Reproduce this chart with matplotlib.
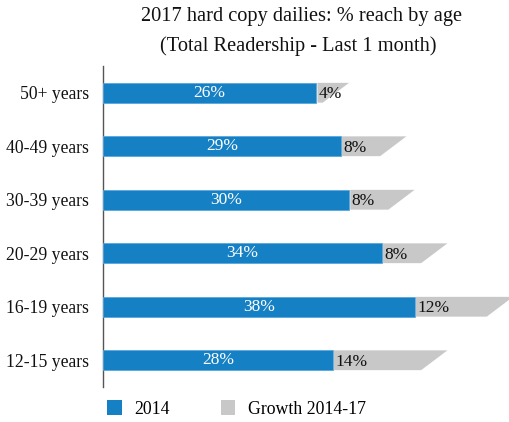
import matplotlib
matplotlib.use("Agg")
import matplotlib.pyplot as plt
from matplotlib.patches import Polygon, Patch

categories = ["12-15 years", "16-19 years", "20-29 years", "30-39 years", "40-49 years", "50+ years"]
reach_2014 = [28, 38, 34, 30, 29, 26]
growth_14_17 = [14, 12, 8, 8, 8, 4]
series_names = ["2014", "Growth 2014-17"]

BLUE = "#1580c4"
GRAY = "#c8c8c9"
FONT = ["Liberation Serif", "DejaVu Serif"]
plt.rcParams["font.family"] = FONT

W, H = 510, 422
fig = plt.figure(figsize=(W / 100, H / 100), dpi=100)
ax = fig.add_axes([103 / W, 1 - 387 / H, (W - 103) / W, (387 - 66) / H])

bar_h = 0.37
slant = 3.2
y = list(range(len(categories)))
ax.barh(y, reach_2014, height=bar_h, color=BLUE, edgecolor="#5aa7dc", linewidth=0.6, zorder=3)
for yi, b, g in zip(y, reach_2014, growth_14_17):
    x0 = b + 0.15
    x1 = b + g
    poly = Polygon([(x0, yi + bar_h / 2), (x1, yi + bar_h / 2), (x1 - slant, yi - bar_h / 2), (x0, yi - bar_h / 2)],
                   closed=True, facecolor=GRAY, edgecolor="none", zorder=3, clip_on=True)
    ax.add_patch(poly)
    ax.text(b / 2, yi, f"{b}%", color="white", ha="center", va="center", fontsize=12.5, zorder=4)
    ax.text(b + 0.3, yi - 0.03, f"{g}%", color="#111111", ha="left", va="center", fontsize=12.5, zorder=4)

ax.set_xlim(0, (W - 103) / 8.2)
ax.set_ylim(-0.5, len(categories) - 0.5)
ax.set_yticks(y)
ax.set_yticklabels(categories, fontsize=12.7, color="#111111")
ax.tick_params(axis="y", length=0, pad=10)
ax.set_xticks([])
for s in ["top", "right", "bottom"]:
    ax.spines[s].set_visible(False)
ax.spines["left"].set_color("#555555")
ax.spines["left"].set_linewidth(1.0)

fig.text(302 / W, 1 - 16 / H, "2017 hard copy dailies: % reach by age", ha="center", va="center",
         fontsize=14.7, color="#111111")
fig.text(298 / W, 1 - 46 / H, "(Total Readership - Last 1 month)", ha="center", va="center",
         fontsize=14.7, color="#111111")

handles = [Patch(facecolor=BLUE, edgecolor="none"), Patch(facecolor=GRAY, edgecolor="none")]
fig.legend(handles, series_names, loc="center left", bbox_to_anchor=(95 / W, 1 - 409 / H), ncol=2,
           frameon=False, fontsize=12.8, handlelength=0.8, handleheight=0.85, handletextpad=0.7,
           columnspacing=2.9, borderpad=0.2)

fig.savefig("out.png", dpi=100)
